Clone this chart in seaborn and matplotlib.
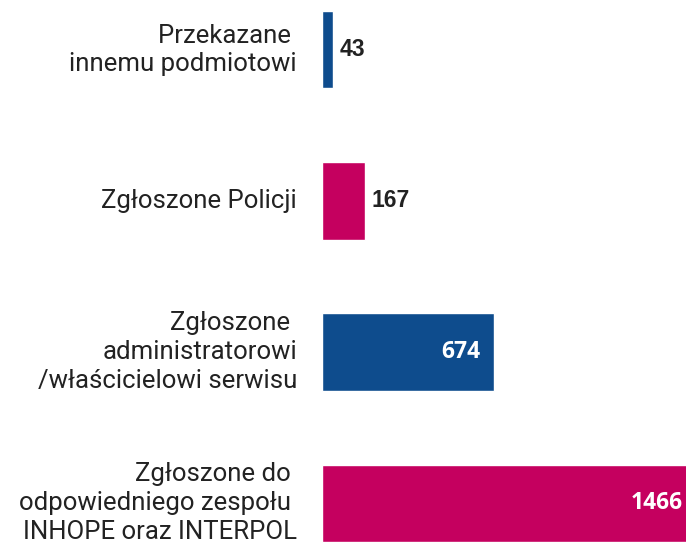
import pandas as pd
import matplotlib.pyplot as plt
import seaborn as sns

# data
categories = [
    "Przekazane \ninnemu podmiotowi",
    "Zgłoszone Policji",
    "Zgłoszone \nadministratorowi\n/właścicielowi serwisu",
    "Zgłoszone do \nodpowiedniego zespołu \nINHOPE oraz INTERPOL",
]
values = [43, 167, 674, 1466]
bar_colors = ["#0e4c8d", "#c5005f", "#0e4c8d", "#c5005f"]

df = pd.DataFrame({"cat": categories, "val": values})

sns.set_style("white")
plt.rcParams["font.family"] = ["Roboto", "DejaVu Sans"]

fig = plt.figure(figsize=(6.86, 5.45), dpi=100)
ax = fig.add_axes([322 / 686, 0, 364 / 686, 1])

sns.barplot(data=df, x="val", y="cat", hue="cat", palette=bar_colors,
            orient="h", width=0.51, legend=False, ax=ax, saturation=1)

ax.set_xlim(0, 1427)
ax.set_ylim(3.278, -0.331)
ax.set_xlabel("")
ax.set_ylabel("")
ax.set_xticks([])
ax.set_yticks([])
sns.despine(ax=ax, left=True, bottom=True)

# category labels on the left
for i, c in enumerate(categories):
    ax.annotate(c, xy=(0, i), xycoords="data", xytext=(-18, 0),
                textcoords="offset points", ha="right", va="center",
                fontsize=18.5, color="#222222", linespacing=1.24,
                annotation_clip=False)

# value labels
for i, v in enumerate(values):
    if v > 400:
        ax.annotate(str(v), xy=(v, i), xytext=(-9.5, 0), textcoords="offset points",
                    ha="right", va="center", fontsize=16.5, fontweight="bold",
                    color="white", family=["Open Sans", "DejaVu Sans"],
                    annotation_clip=False, clip_on=False)
    else:
        ax.annotate(str(v), xy=(v, i), xytext=(5, 0), textcoords="offset points",
                    ha="left", va="center", fontsize=16.5, fontweight="bold",
                    color="#222222", family=["Liberation Sans", "DejaVu Sans"],
                    annotation_clip=False)

fig.savefig("out.png", dpi=100)
